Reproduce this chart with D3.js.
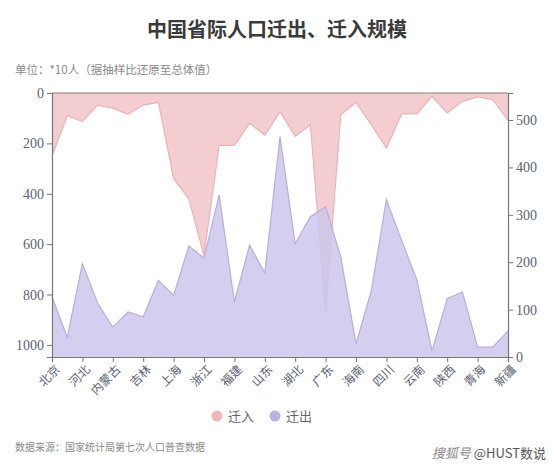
<!DOCTYPE html>
<html>
<head>
<meta charset="utf-8">
<script src="https://d3js.org/d3.v7.min.js"></script>
<style>
  body { margin: 0; background: #fff; }
</style>
</head>
<body>
<div id="chart"></div>
<script>
// 省份（31个），x轴隔一个显示
var provinces = ["北京","天津","河北","山西","内蒙古","辽宁","吉林","黑龙江","上海","江苏",
  "浙江","安徽","福建","江西","山东","河南","湖北","湖南","广东","广西",
  "海南","重庆","四川","贵州","云南","西藏","陕西","甘肃","青海","宁夏","新疆"];

// 迁入（左轴，倒置）
var inflow = [250, 90, 113, 48, 60, 85, 48, 37, 340, 420,
  645, 208, 208, 120, 167, 75, 172, 126, 875, 86,
  37, 126, 218, 83, 83, 13, 79, 33, 16, 26, 109];

// 迁出（右轴）
var outflow = [127, 41, 197, 114, 63, 95, 85, 162, 130, 234,
  209, 342, 116, 236, 177, 465, 239, 296, 317, 211,
  28, 139, 332, 246, 163, 13, 123, 137, 21, 21, 55];

var leftTicks = [0, 200, 400, 600, 800, 1000];
var rightTicks = [0, 100, 200, 300, 400, 500];

var W = 554, H = 471;
var margin = {top: 93, right: 46, bottom: 114, left: 52};
var w = W - margin.left - margin.right;
var h = H - margin.top - margin.bottom;

var cjk = "'Noto Sans CJK SC', sans-serif";
var serif = "'Liberation Serif', 'DejaVu Serif', serif";

var svg = d3.select("#chart").append("svg")
    .attr("width", W)
    .attr("height", H);

svg.append("text")
    .attr("x", W / 2).attr("y", 37)
    .attr("text-anchor", "middle")
    .style("font-family", cjk)
    .style("font-size", "20px")
    .style("font-weight", "bold")
    .style("fill", "#3a3a3a")
    .text("中国省际人口迁出、迁入规模");

svg.append("text")
    .attr("x", 15).attr("y", 74)
    .style("font-family", cjk)
    .style("font-size", "11.5px")
    .style("fill", "#8a8a8a")
    .text("单位：*10人（据抽样比还原至总体值）");

var g = svg.append("g")
    .attr("transform", "translate(" + margin.left + "," + margin.top + ")");

var x = d3.scalePoint().domain(provinces).range([0, w]);
var yL = d3.scaleLinear().domain([0, 1048]).range([0, h]);
var yR = d3.scaleLinear().domain([0, 557]).range([h, 0]);

var areaIn = d3.area()
    .x(function (d, i) { return x(provinces[i]); })
    .y0(0)
    .y1(function (d) { return yL(d); });

var areaOut = d3.area()
    .x(function (d, i) { return x(provinces[i]); })
    .y0(h)
    .y1(function (d) { return yR(d); });

var lineIn = d3.line()
    .x(function (d, i) { return x(provinces[i]); })
    .y(function (d) { return yL(d); });

var lineOut = d3.line()
    .x(function (d, i) { return x(provinces[i]); })
    .y(function (d) { return yR(d); });

g.append("path").datum(inflow)
    .attr("d", areaIn)
    .style("fill", "#f2c4c9")
    .style("fill-opacity", 0.85);
g.append("path").datum(inflow)
    .attr("d", lineIn)
    .style("fill", "none")
    .style("stroke", "#ebb3b9")
    .style("stroke-width", 1.2);

g.append("path").datum(outflow)
    .attr("d", areaOut)
    .style("fill", "#cdc5ec")
    .style("fill-opacity", 0.85);
g.append("path").datum(outflow)
    .attr("d", lineOut)
    .style("fill", "none")
    .style("stroke", "#b9addf")
    .style("stroke-width", 1.2);

// 顶部边框
g.append("line")
    .attr("x1", 0).attr("x2", w)
    .attr("y1", 0).attr("y2", 0)
    .style("stroke", "#8c8080")
    .style("stroke-width", 1.2);

var axisColor = "#777";

var gl = g.append("g")
    .call(d3.axisLeft(yL).tickValues(leftTicks).tickFormat(d3.format("d"))
      .tickSize(5).tickPadding(3));
var gr = g.append("g")
    .attr("transform", "translate(" + w + ",0)")
    .call(d3.axisRight(yR).tickValues(rightTicks).tickFormat(d3.format("d"))
      .tickSize(5).tickPadding(3));
var shown = provinces.filter(function (d, i) { return i % 2 === 0; });
var gb = g.append("g")
    .attr("transform", "translate(0," + h + ")")
    .call(d3.axisBottom(x).tickValues(shown).tickSize(5).tickPadding(3));

[gl, gr, gb].forEach(function (a) {
  a.select(".domain").style("stroke", axisColor).style("stroke-width", 1.2);
  a.selectAll(".tick line").style("stroke", axisColor);
  a.selectAll("text")
      .style("fill", "#5c6272")
      .style("font-family", serif)
      .style("font-size", "14px");
});

gb.selectAll("text")
    .style("font-family", cjk)
    .style("font-size", "12px")
    .attr("text-anchor", "end")
    .attr("dx", "-0.3em")
    .attr("dy", "0.6em")
    .attr("transform", "rotate(-45)");

// 图例
var legend = [{name: "迁入", color: "#efb6bc"}, {name: "迁出", color: "#bbb2e4"}];
var lg = svg.append("g").attr("transform", "translate(217,416)");
var item = lg.selectAll("g").data(legend).enter().append("g")
    .attr("transform", function (d, i) { return "translate(" + (i * 58) + ",0)"; });
item.append("circle")
    .attr("r", 5.5)
    .style("fill", function (d) { return d.color; });
item.append("text")
    .attr("x", 11).attr("y", 4.5)
    .style("font-family", cjk)
    .style("font-size", "13px")
    .style("fill", "#666")
    .text(function (d) { return d.name; });

svg.append("text")
    .attr("x", 15).attr("y", 451)
    .style("font-family", cjk)
    .style("font-size", "10px")
    .style("fill", "#8a8a8a")
    .text("数据来源：国家统计局第七次人口普查数据");

svg.append("text")
    .attr("x", 546).attr("y", 458)
    .attr("text-anchor", "end")
    .style("font-family", cjk)
    .style("font-size", "13px")
    .style("fill", "#555")
    .html("<tspan style='font-style:italic;fill:#888'>搜狐号</tspan> @HUST数说");
</script>
</body>
</html>
